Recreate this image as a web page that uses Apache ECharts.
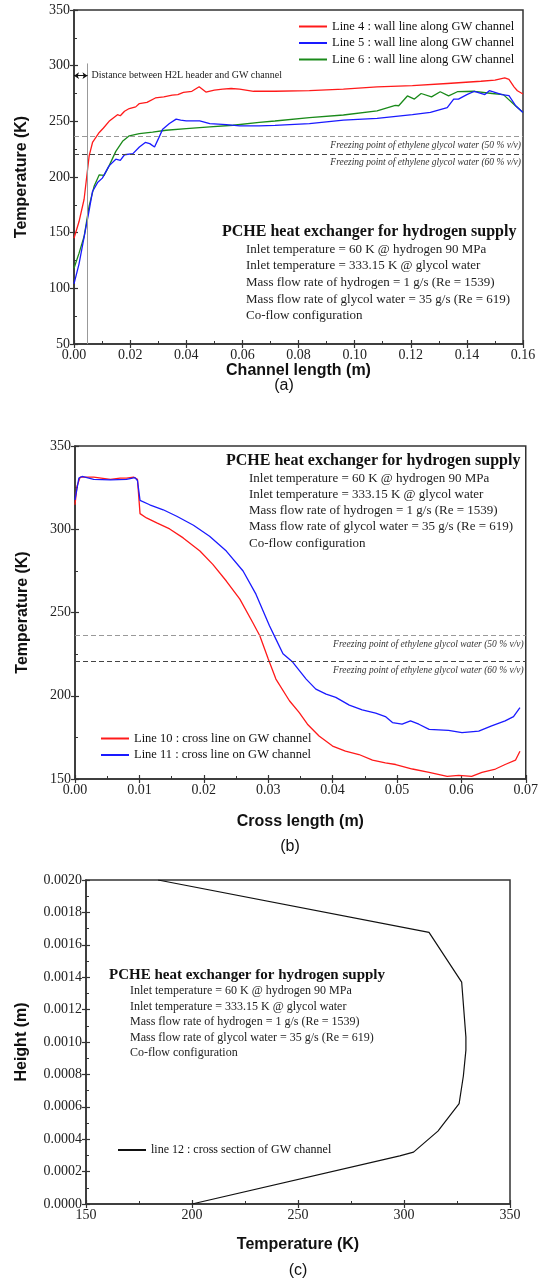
<!DOCTYPE html>
<html>
<head>
<meta charset="utf-8">
<script src="https://cdn.jsdelivr.net/npm/echarts@6/dist/echarts.min.js"></script>
<style>
  html, body { margin: 0; padding: 0; background: #fff; }
  #chart { width: 541px; height: 1286px; }
</style>
</head>
<body>
<div id="chart"></div>
<script>
// panel (a): wall lines along GW channel, [channel length (m), temperature (K)]
const line4 = [[0,145],[0.0018,160],[0.0036,180],[0.0054,219],[0.0066,231],[0.009,240],[0.0105,244],[0.0125,250],[0.014,253],[0.0155,256],[0.0165,255],[0.018,259],[0.0197,261.5],[0.022,263],[0.0233,266],[0.026,267],[0.029,271],[0.032,272],[0.035,273.5],[0.037,274],[0.039,276],[0.042,277],[0.0446,281],[0.047,276.3],[0.05,278],[0.053,279],[0.056,279.5],[0.059,279],[0.064,277],[0.0716,277],[0.0839,277.5],[0.096,279],[0.108,281],[0.1206,282],[0.133,284],[0.145,286],[0.15,287],[0.1535,289],[0.155,287.7],[0.1568,281],[0.158,277.5],[0.16,274.6]];
const line5 = [[0,104],[0.0018,122],[0.0036,146],[0.0054,170],[0.0066,187],[0.0084,195],[0.0101,199],[0.0125,210],[0.0149,216],[0.0165,215],[0.018,220],[0.021,221],[0.0233,227],[0.0254,231],[0.027,230],[0.0287,227],[0.03,234],[0.0316,243],[0.034,248],[0.0364,252],[0.038,251],[0.04,250.5],[0.0448,250.5],[0.0484,248],[0.0543,247],[0.059,246],[0.066,246],[0.0716,246.4],[0.0839,248],[0.096,251],[0.108,252.7],[0.1206,256],[0.127,258],[0.133,262.3],[0.1353,270],[0.137,270],[0.14,274],[0.1427,277],[0.1464,274],[0.148,277.5],[0.1525,274],[0.155,273],[0.1574,264],[0.16,258]];
const line6 = [[0,118],[0.0018,131.6],[0.0036,146.5],[0.0054,174],[0.0072,192],[0.009,202],[0.0107,201.5],[0.0125,210],[0.0149,223],[0.0173,232],[0.0197,237],[0.0233,239],[0.028,240.4],[0.0328,242],[0.04,243.4],[0.0484,245],[0.0567,246.5],[0.066,249],[0.0716,250.3],[0.0839,253.3],[0.096,255.7],[0.108,259.3],[0.1145,264.4],[0.1157,264],[0.1188,272.8],[0.1213,270],[0.1237,275],[0.1274,272],[0.1305,276.6],[0.1335,272.8],[0.1366,276.6],[0.1427,277],[0.149,275],[0.153,274],[0.1574,263.8],[0.16,258]];

// panel (b): cross lines on GW channel, [cross length (m), temperature (K)]
const line10 = [[0,314.7],[0.0003,325.7],[0.0008,331.3],[0.0029,331.3],[0.0055,330],[0.007,330.7],[0.008,330.7],[0.0091,331.3],[0.0097,330],[0.0101,309.4],[0.0111,306.8],[0.0127,303.8],[0.0147,300.2],[0.0168,294.8],[0.0194,286.9],[0.0214,278.9],[0.0235,268.9],[0.0256,258],[0.0276,244],[0.0287,236],[0.03,222.2],[0.0312,210],[0.0333,197],[0.0348,190],[0.0361,182.9],[0.0379,175.8],[0.04,169.8],[0.042,166.7],[0.0441,164.7],[0.0462,161.3],[0.0482,159.7],[0.0498,158.7],[0.0524,156],[0.055,154],[0.0578,151.6],[0.0596,152.2],[0.0616,151.6],[0.0632,154],[0.0653,156],[0.0668,158.7],[0.0684,161.3],[0.0691,166.7]];
const line11 = [[0,317.7],[0.0006,330.7],[0.0011,331.7],[0.0029,330],[0.0055,329.7],[0.008,330],[0.0093,331],[0.0097,329.3],[0.0101,317.3],[0.0116,314.7],[0.0137,311.7],[0.0158,307.8],[0.0184,302.4],[0.0209,295.8],[0.0235,286.9],[0.0261,274.9],[0.0281,261],[0.0302,242],[0.0312,234],[0.0323,225.2],[0.0338,220.2],[0.0359,210],[0.0374,204],[0.039,201],[0.0405,199],[0.0426,194.4],[0.0446,191.5],[0.0467,189.5],[0.0482,187.5],[0.0493,183.9],[0.0508,182.9],[0.0521,184.9],[0.0534,182.9],[0.055,179.8],[0.058,179.2],[0.0601,177.8],[0.0627,178.8],[0.0647,181.9],[0.0668,184.9],[0.0681,187.5],[0.0691,192.9]];

// panel (c): cross section of GW channel, [temperature (K), height (m)]
const line12 = [[200,0],[298,0.000297],[304.5,0.00032],[316,0.00045],[326,0.00062],[328,0.00079],[329.2,0.00095],[329.2,0.00103],[327.2,0.00137],[311.8,0.001677],[184,0.002]];

// freezing points of ethylene glycol water (K)
const freeze50 = 236.3;
const freeze60 = 220.8;
const headerGap = 0.0048; // distance between H2L header and GW channel (m)

const infoTitle = 'PCHE heat exchanger for hydrogen supply';
const infoLines = [
  'Inlet temperature = 60 K @ hydrogen 90 MPa',
  'Inlet temperature = 333.15 K @ glycol water',
  'Mass flow rate of hydrogen = 1 g/s (Re = 1539)',
  'Mass flow rate of glycol water = 35 g/s (Re = 619)',
  'Co-flow configuration'
];

const serif = '"Liberation Serif","Times New Roman",serif';
const sans = '"Liberation Sans",Arial,sans-serif';
const axisColor = '#333';

function mainAxis(gridIndex, pos, min, max, interval, digits, name, nameGap) {
  return {
    type: 'value', gridIndex, position: pos, min, max, interval,
    axisLine: { show: true, onZero: false, lineStyle: { color: axisColor, width: 1.5 } },
    axisTick: { show: true, inside: false, length: 4, lineStyle: { color: axisColor, width: 1.2 } },
    axisLabel: {
      fontFamily: serif, fontSize: 14, color: '#222', margin: 4,
      formatter: v => v.toFixed(digits)
    },
    splitLine: { show: false },
    name, nameLocation: 'middle', nameGap,
    nameTextStyle: { fontFamily: sans, fontWeight: 'bold', fontSize: 16, color: '#111' }
  };
}
// second copy of each axis: inner ticks + minor ticks
function innerAxis(gridIndex, pos, min, max, interval) {
  return {
    type: 'value', gridIndex, position: pos, min, max, interval,
    axisLine: { show: false, onZero: false },
    axisTick: { show: true, inside: true, length: 4, lineStyle: { color: axisColor, width: 1.2 } },
    minorTick: { show: true, splitNumber: 2, length: 3, lineStyle: { color: axisColor, width: 1 } },
    axisLabel: { show: false },
    splitLine: { show: false }
  };
}

function freezeLines() {
  const lbl = (t) => ({
    show: true, position: 'insideEndBottom', formatter: t, distance: [2, 4],
    fontFamily: serif, fontStyle: 'italic', fontSize: 9.5, color: '#333'
  });
  return {
    silent: true, symbol: 'none',
    data: [
      { yAxis: freeze50, lineStyle: { color: '#999', type: [5, 3], width: 1 }, label: lbl('Freezing point of ethylene glycol water (50 % v/v)') },
      { yAxis: freeze60, lineStyle: { color: '#444', type: [5, 3], width: 1 }, label: lbl('Freezing point of ethylene glycol water (60 % v/v)') }
    ]
  };
}

function infoBox(x, y, titleSize, lineSize, step, indent) {
  const els = [{
    type: 'text', x, y,
    style: { text: infoTitle, fontFamily: serif, fontWeight: 'bold', fontSize: titleSize, fill: '#111', verticalAlign: 'middle' }
  }];
  infoLines.forEach((t, i) => {
    els.push({
      type: 'text', x: x + indent, y: y + step * (i + 1.05),
      style: { text: t, fontFamily: serif, fontSize: lineSize, fill: '#222', verticalAlign: 'middle' }
    });
  });
  return els;
}

function panelLabel(t, x, y) {
  return { type: 'text', x, y, style: { text: t, fontFamily: sans, fontSize: 16, fill: '#111', align: 'center', verticalAlign: 'middle' } };
}

const lineSeries = (name, data, color, xi, yi, extra) => Object.assign({
  name, type: 'line', data, xAxisIndex: xi, yAxisIndex: yi,
  symbol: 'none', smooth: false, lineStyle: { color, width: 1.3 }, itemStyle: { color }
}, extra || {});

const legendBase = {
  orient: 'vertical', icon: 'rect', itemWidth: 28, itemHeight: 2, itemGap: 3.5,
  textStyle: { fontFamily: serif, fontSize: 12.5, color: '#111', padding: [0, 0, 0, 0] }
};

const chart = echarts.init(document.getElementById('chart'), null, { renderer: 'canvas' });

const option = {
  backgroundColor: '#fff',
  animation: false,
  grid: [
    { left: 74, top: 10, width: 449, height: 334, show: true, borderColor: axisColor, borderWidth: 1.5 },
    { left: 75, top: 446, width: 452, height: 333, show: true, borderColor: axisColor, borderWidth: 1.5 },
    { left: 86, top: 880, width: 424, height: 324, show: true, borderColor: axisColor, borderWidth: 1.5 }
  ],
  xAxis: [
    mainAxis(0, 'bottom', 0, 0.16, 0.02, 2, 'Channel length (m)', 17),
    innerAxis(0, 'bottom', 0, 0.16, 0.02),
    mainAxis(1, 'bottom', 0, 0.07, 0.01, 2, 'Cross length (m)', 35),
    innerAxis(1, 'bottom', 0, 0.07, 0.01),
    mainAxis(2, 'bottom', 150, 350, 50, 0, 'Temperature (K)', 33),
    innerAxis(2, 'bottom', 150, 350, 50)
  ],
  yAxis: [
    mainAxis(0, 'left', 50, 350, 50, 0, 'Temperature (K)', 44),
    innerAxis(0, 'left', 50, 350, 50),
    mainAxis(1, 'left', 150, 350, 50, 0, 'Temperature (K)', 44),
    innerAxis(1, 'left', 150, 350, 50),
    mainAxis(2, 'left', 0, 0.002, 0.0002, 4, 'Height (m)', 56),
    innerAxis(2, 'left', 0, 0.002, 0.0002)
  ],
  legend: [
    Object.assign({}, legendBase, { left: 294, top: 15, data: ['Line 4 : wall line along GW channel', 'Line 5 : wall line along GW channel', 'Line 6 : wall line along GW channel'] }),
    Object.assign({}, legendBase, { left: 96, top: 727, data: ['Line 10 : cross line on GW channel', 'Line 11 : cross line on GW channel'] }),
    Object.assign({}, legendBase, { left: 113, top: 1139, textStyle: { fontFamily: serif, fontSize: 12, color: '#111' }, data: ['line 12 : cross section of GW channel'] })
  ],
  series: [
    lineSeries('Line 4 : wall line along GW channel', line4, '#ff1a1a', 0, 0, {
      z: 3,
      markLine: {
        silent: true, symbol: 'none',
        data: [
          [{ coord: [headerGap, 302], lineStyle: { color: '#999', width: 1, type: 'solid' }, label: { show: false } }, { coord: [headerGap, 50] }],
          [{ coord: [0, 291], symbol: 'arrow', symbolSize: 5, lineStyle: { color: '#111', width: 1, type: 'solid' },
             label: { show: true, position: 'end', distance: 4, formatter: 'Distance between H2L header and GW channel', fontFamily: serif, fontSize: 10, color: '#222' } },
           { coord: [headerGap, 291], symbol: 'arrow', symbolSize: 5 }]
        ]
      }
    }),
    lineSeries('Line 5 : wall line along GW channel', line5, '#1a1aff', 0, 0, { z: 2 }),
    lineSeries('Line 6 : wall line along GW channel', line6, '#1a8a1a', 0, 0, { z: 1, markLine: freezeLines() }),
    lineSeries('Line 10 : cross line on GW channel', line10, '#ff1a1a', 2, 2, { markLine: freezeLines() }),
    lineSeries('Line 11 : cross line on GW channel', line11, '#1a1aff', 2, 2),
    lineSeries('line 12 : cross section of GW channel', line12, '#111', 4, 4, { lineStyle: { color: '#111', width: 1.2 } })
  ],
  graphic: [].concat(
    infoBox(222, 232, 16, 13, 16.6, 24),
    infoBox(226, 461, 16, 13, 16.3, 23),
    infoBox(109, 975, 15, 12, 15.5, 21),
    [panelLabel('(a)', 284, 386), panelLabel('(b)', 290, 847), panelLabel('(c)', 298, 1271)]
  )
};

chart.setOption(option);
window.addEventListener('resize', () => chart.resize());
</script>
</body>
</html>
